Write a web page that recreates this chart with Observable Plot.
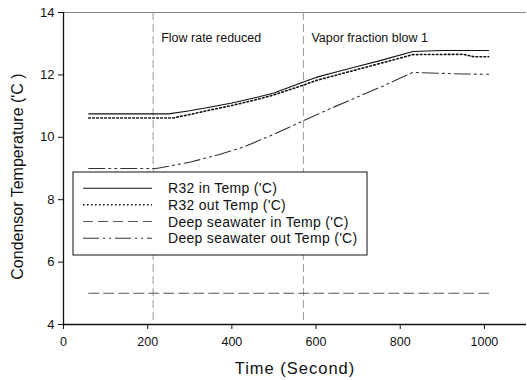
<!DOCTYPE html>
<html>
<head>
<meta charset="utf-8">
<script src="https://cdn.jsdelivr.net/npm/d3@7"></script>
<script src="https://cdn.jsdelivr.net/npm/@observablehq/plot@0.6"></script>
<style>
  html, body { margin: 0; padding: 0; background: #fff; }
  #chart { position: relative; width: 527px; height: 380px; }
</style>
</head>
<body>
<div id="chart"></div>
<script>
// ---- data ----
const seriesNames = [
  "R32 in Temp ('C)",
  "R32 out Temp ('C)",
  "Deep seawater in Temp ('C)",
  "Deep seawater out Temp ('C)"
];
const r32InTime  = [60, 250, 300, 350, 400, 450, 500, 565, 600, 650, 700, 750, 830, 900, 1010];
const r32InTemp  = [10.75, 10.75, 10.85, 10.97, 11.1, 11.25, 11.42, 11.75, 11.92, 12.1, 12.28, 12.45, 12.75, 12.78, 12.78];
const r32OutTime = [60, 260, 300, 350, 400, 450, 500, 565, 600, 650, 700, 750, 830, 950, 975, 1010];
const r32OutTemp = [10.62, 10.62, 10.73, 10.88, 11.02, 11.18, 11.36, 11.65, 11.82, 12.0, 12.18, 12.36, 12.65, 12.66, 12.58, 12.58];
const dswInTime  = [60, 1010];
const dswInTemp  = [5.0, 5.0];
const dswOutTime = [60, 220, 300, 370, 430, 500, 565, 630, 700, 760, 830, 900, 950, 1010];
const dswOutTemp = [9.0, 9.0, 9.2, 9.45, 9.7, 10.1, 10.5, 10.9, 11.3, 11.65, 12.08, 12.05, 12.03, 12.02];

const eventTimes  = [213, 570];
const eventLabels = ["Flow rate reduced", "Vapor fraction blow 1"];

const xTicks = [0, 200, 400, 600, 800, 1000];
const yTicks = [4, 6, 8, 10, 12, 14];

// ---- styles per series ----
const styles = [
  {stroke: "#111", strokeWidth: 1.1, dash: null},
  {stroke: "#111", strokeWidth: 1.6, dash: "1.6,2.4"},
  {stroke: "#555", strokeWidth: 1.1, dash: "10,5"},
  {stroke: "#333", strokeWidth: 1.1, dash: "16,4,2,4,2,4"}
];

const toRows = (t, v) => t.map((d, i) => ({time: d, temp: v[i]}));
const series = [
  toRows(r32InTime, r32InTemp),
  toRows(r32OutTime, r32OutTemp),
  toRows(dswInTime, dswInTemp),
  toRows(dswOutTime, dswOutTemp)
];

const font = "'Liberation Sans', Arial, sans-serif";

const plot = Plot.plot({
  width: 527,
  height: 380,
  marginLeft: 63,
  marginRight: 1,
  marginTop: 12,
  marginBottom: 56,
  style: {fontFamily: font, background: "#fff", color: "#111", overflow: "visible"},
  x: {domain: [0, 1100]},
  y: {domain: [4, 14]},
  marks: [
    Plot.ruleY([14], {stroke: "#888", strokeWidth: 1}),
    Plot.ruleX(eventTimes, {stroke: "#999", strokeWidth: 1, strokeDasharray: "8,4"}),
    Plot.text(eventLabels, {x: eventTimes, frameAnchor: "top", dy: 21, dx: 8, textAnchor: "start", fontSize: 12.5, fill: "#111"}),
    ...series.map((s, i) => Plot.line(s, {
      x: "time", y: "temp",
      stroke: styles[i].stroke,
      strokeWidth: styles[i].strokeWidth,
      strokeDasharray: styles[i].dash
    })),
    Plot.axisX({ticks: xTicks, tickFormat: d => String(d), tickSize: 5, tickPadding: 8, fontSize: 12.5, label: null}),
    Plot.axisY({ticks: yTicks, tickFormat: d => String(d), tickSize: 5, tickPadding: 4, fontSize: 13, label: null}),
    Plot.ruleX([0], {stroke: "#111", strokeWidth: 1.3}),
    Plot.ruleY([4], {stroke: "#111", strokeWidth: 1.3}),
    Plot.text(["Time (Second)"], {frameAnchor: "bottom", dy: 49, fontSize: 16.5, fill: "#111"}),
    Plot.text(["Condensor Temperature ('C )"], {frameAnchor: "left", dx: -46, dy: 8, rotate: -90, textAnchor: "middle", fontSize: 16, fill: "#111"})
  ]
});

document.getElementById("chart").appendChild(plot);

// ---- legend inside plot area ----
const svg = d3.select(plot);
const lg = svg.append("g").attr("font-family", font).attr("text-anchor", "start");
const box = {x: 73, y: 172, w: 294, h: 83};
lg.append("rect")
  .attr("x", box.x).attr("y", box.y).attr("width", box.w).attr("height", box.h)
  .attr("fill", "#fff").attr("stroke", "#111").attr("stroke-width", 1);
const rowY = [188.3, 204.8, 221.5, 238.2];
seriesNames.forEach((name, i) => {
  lg.append("line")
    .attr("x1", 83).attr("x2", 152).attr("y1", rowY[i]).attr("y2", rowY[i])
    .attr("stroke", styles[i].stroke).attr("stroke-width", styles[i].strokeWidth)
    .attr("stroke-dasharray", styles[i].dash);
  lg.append("text")
    .attr("x", 168).attr("y", rowY[i]).attr("dy", "0.36em")
    .attr("text-anchor", "start")
    .style("letter-spacing", "0.3px")
    .attr("font-size", 14).attr("fill", "#111").text(name);
});
// letter spacing on x title like the reference
svg.selectAll("text").filter(function() { return this.textContent === "Time (Second)"; })
  .style("letter-spacing", "1px");
</script>
</body>
</html>
